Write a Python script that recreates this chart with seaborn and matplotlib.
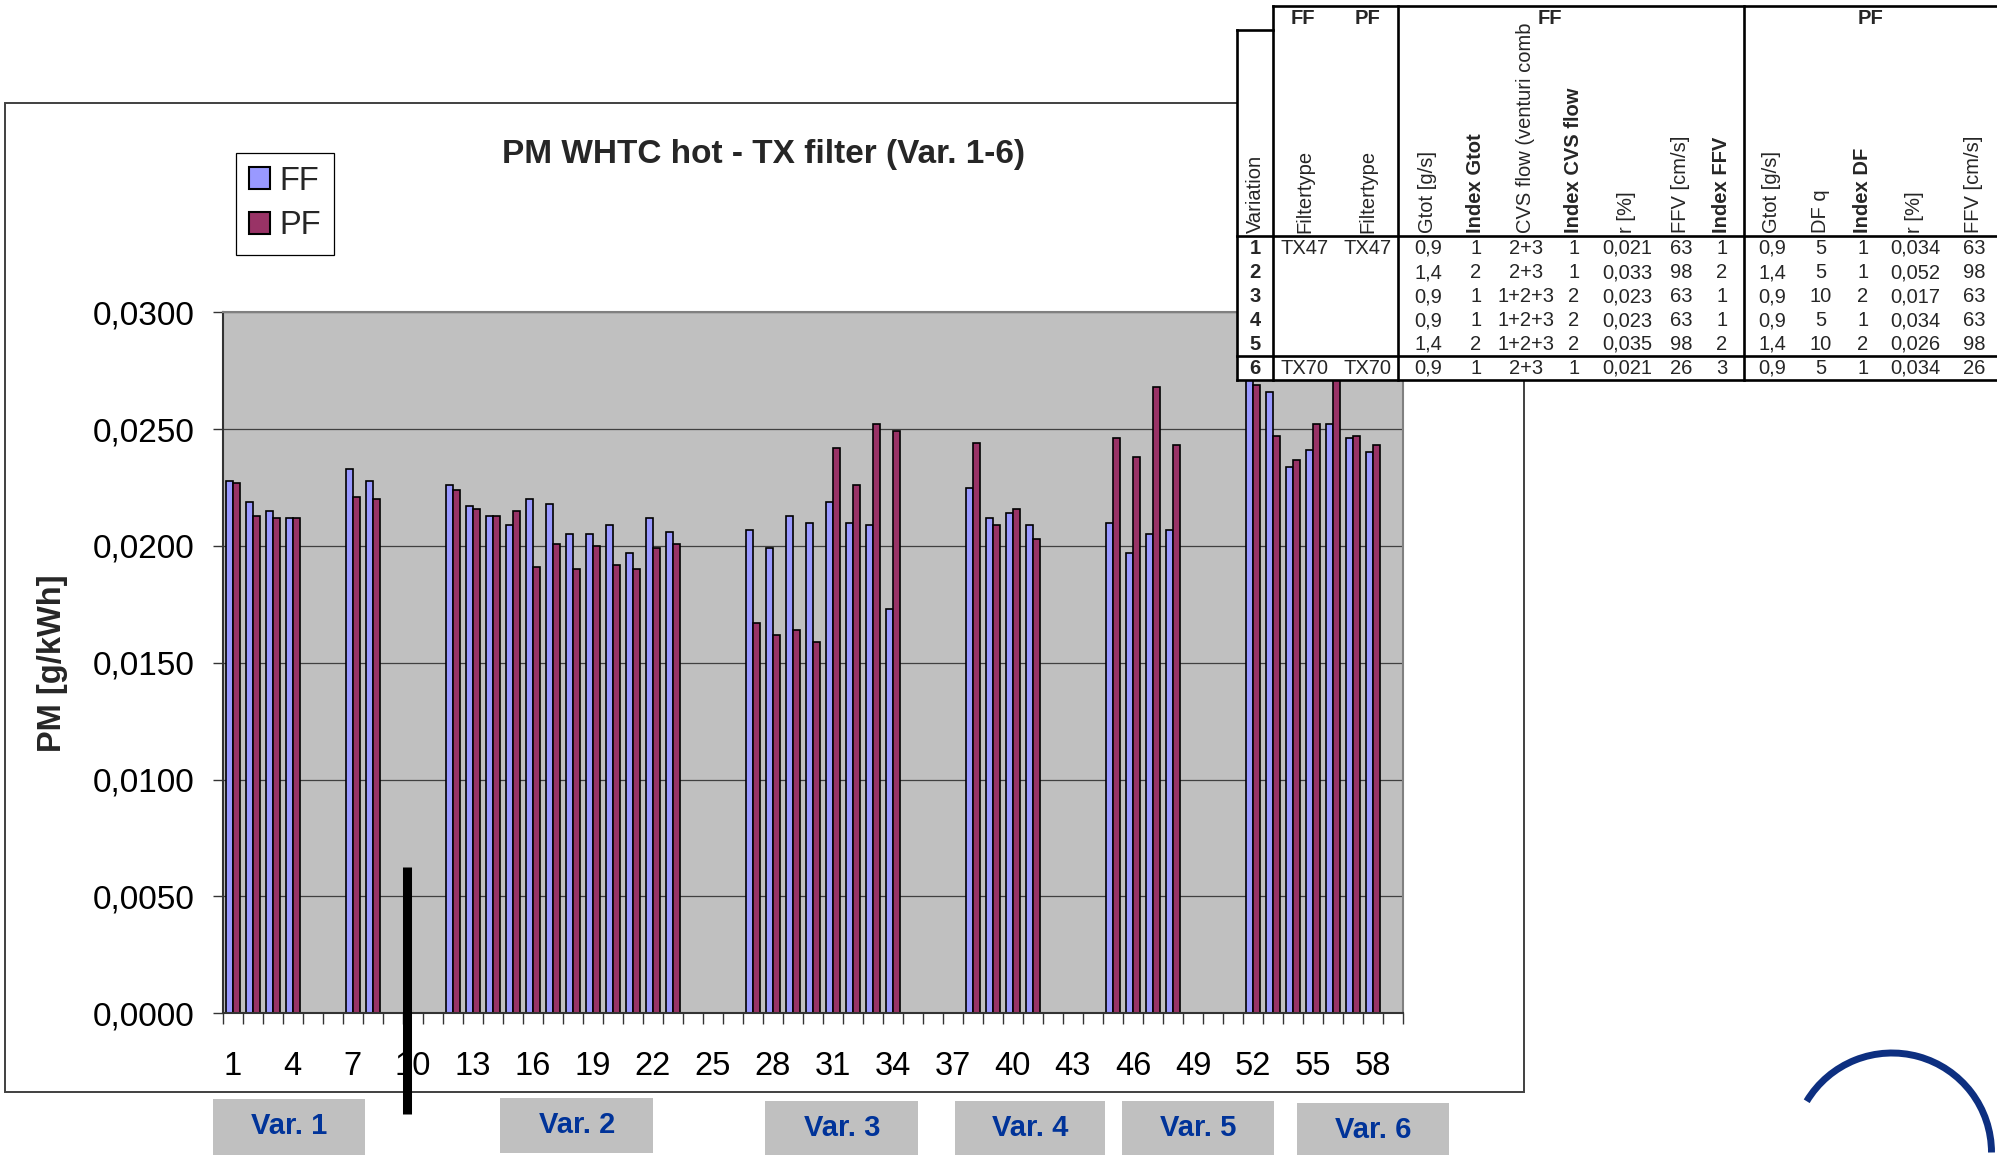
import numpy as np
import pandas as pd
import matplotlib
matplotlib.use("Agg")
import matplotlib.pyplot as plt
import seaborn as sns
from matplotlib.patches import Rectangle, Arc, Patch

nan = np.nan

# ---------------- data ----------------
categories = [str(i) for i in range(1, 60)]
ff_values = [0.0228, 0.0219, 0.0215, 0.0212, nan, nan, 0.0233, 0.0228, nan, nan,
             nan, 0.0226, 0.0217, 0.0213, 0.0209, 0.0220, 0.0218, 0.0205, 0.0205, 0.0209,
             0.0197, 0.0212, 0.0206, nan, nan, nan, 0.0207, 0.0199, 0.0213, 0.0210,
             0.0219, 0.0210, 0.0209, 0.0173, nan, nan, nan, 0.0225, 0.0212, 0.0214,
             0.0209, nan, nan, nan, 0.0210, 0.0197, 0.0205, 0.0207, nan, nan,
             nan, 0.0283, 0.0266, 0.0234, 0.0241, 0.0252, 0.0246, 0.0240, nan]
pf_values = [0.0227, 0.0213, 0.0212, 0.0212, nan, nan, 0.0221, 0.0220, nan, nan,
             nan, 0.0224, 0.0216, 0.0213, 0.0215, 0.0191, 0.0201, 0.0190, 0.0200, 0.0192,
             0.0190, 0.0199, 0.0201, nan, nan, nan, 0.0167, 0.0162, 0.0164, 0.0159,
             0.0242, 0.0226, 0.0252, 0.0249, nan, nan, nan, 0.0244, 0.0209, 0.0216,
             0.0203, nan, nan, nan, 0.0246, 0.0238, 0.0268, 0.0243, nan, nan,
             nan, 0.0269, 0.0247, 0.0237, 0.0252, 0.0288, 0.0247, 0.0243, nan]
series_names = ["FF", "PF"]
xtick_labels = ["1", "4", "7", "10", "13", "16", "19", "22", "25", "28", "31",
                "34", "37", "40", "43", "46", "49", "52", "55", "58"]
ytick_values = [0.0, 0.005, 0.010, 0.015, 0.020, 0.025, 0.030]
ytick_labels = ["0,0000", "0,0050", "0,0100", "0,0150", "0,0200", "0,0250", "0,0300"]
title = "PM WHTC hot - TX filter (Var. 1-6)"
ylabel = "PM [g/kWh]"
var_labels = ["Var. 1", "Var. 2", "Var. 3", "Var. 4", "Var. 5", "Var. 6"]

# table data
t_variation = ["1", "2", "3", "4", "5", "6"]
t_ff_filter = ["TX47", "", "", "", "", "TX70"]
t_pf_filter = ["TX47", "", "", "", "", "TX70"]
t_ff_gtot = ["0,9", "1,4", "0,9", "0,9", "1,4", "0,9"]
t_ff_idx_gtot = ["1", "2", "1", "1", "2", "1"]
t_ff_cvs = ["2+3", "2+3", "1+2+3", "1+2+3", "1+2+3", "2+3"]
t_ff_idx_cvs = ["1", "1", "2", "2", "2", "1"]
t_ff_r = ["0,021", "0,033", "0,023", "0,023", "0,035", "0,021"]
t_ff_ffv = ["63", "98", "63", "63", "98", "26"]
t_ff_idx_ffv = ["1", "2", "1", "1", "2", "3"]
t_pf_gtot = ["0,9", "1,4", "0,9", "0,9", "1,4", "0,9"]
t_pf_dfq = ["5", "5", "10", "5", "10", "5"]
t_pf_idx_df = ["1", "1", "2", "1", "2", "1"]
t_pf_r = ["0,034", "0,052", "0,017", "0,034", "0,026", "0,034"]
t_pf_ffv = ["63", "98", "63", "63", "98", "26"]

# ---------------- style ----------------
sns.set_style("white")
plt.rcParams["font.family"] = ["Liberation Sans", "DejaVu Sans"]

W, H = 1997, 1155
fig = plt.figure(figsize=(W / 100, H / 100), dpi=100)
fig.patch.set_facecolor("white")

ax_left, ax_right, ax_top, ax_bot = 222.7, 1403.0, 312.3, 1013.3
ax = fig.add_axes([ax_left / W, 1 - ax_bot / H, (ax_right - ax_left) / W, (ax_bot - ax_top) / H])
ax.set_facecolor("#C0C0C0")

df = pd.DataFrame({
    "cat": categories * 2,
    "pm": ff_values + pf_values,
    "filter": [series_names[0]] * len(categories) + [series_names[1]] * len(categories),
})
colors = {"FF": "#9999FF", "PF": "#993366"}
sns.barplot(data=df, x="cat", y="pm", hue="filter", order=categories,
            hue_order=series_names, palette=colors, saturation=1, width=0.68,
            edgecolor="black", linewidth=1.2, errorbar=None, legend=False, ax=ax)

ax.set_xlim(-0.5, len(categories) - 0.5)
ax.set_ylim(ytick_values[0], ytick_values[-1])
ax.set_xlabel("")
ax.set_ylabel("")
ax.set_axisbelow(True)
ax.yaxis.grid(True, color="#404040", linewidth=0.9)
ax.xaxis.grid(False)

ax.set_yticks(ytick_values)
ax.set_yticklabels(ytick_labels)
ax.tick_params(axis="y", which="major", left=True, direction="out", length=7.2,
               width=1, color="#333333", pad=13, labelsize=24, labelcolor="black")

major_pos = [categories.index(l) for l in xtick_labels]
ax.set_xticks(major_pos)
ax.set_xticklabels(xtick_labels)
ax.tick_params(axis="x", which="major", bottom=True, length=0, pad=27, labelsize=23.5,
               labelcolor="black")
ax.set_xticks(np.arange(-0.5, len(categories), 1.0), minor=True)
ax.tick_params(axis="x", which="minor", bottom=True, direction="out", length=8,
               width=1, color="#333333")

for s in ["left", "bottom"]:
    ax.spines[s].set_color("#333333")
    ax.spines[s].set_linewidth(1.5)
for s in ["top", "right"]:
    ax.spines[s].set_color("#808080")
    ax.spines[s].set_linewidth(1.5)

handles = [Patch(facecolor=colors[n], edgecolor="black", linewidth=1.5, label=n) for n in series_names]
leg = ax.legend(handles=handles, loc="upper left",
                bbox_to_anchor=(235.7 / W, 1 - 152.7 / H), bbox_transform=fig.transFigure,
                borderaxespad=0, fontsize=23.5, frameon=True, fancybox=False, framealpha=1,
                edgecolor="black", borderpad=0.4, handlelength=0.65, handleheight=0.65,
                handletextpad=0.3, labelspacing=0.42)
leg.get_frame().set_linewidth(0.9)

# ---------------- overlay (pixel coordinates, y down) ----------------
ov = fig.add_axes([0, 0, 1, 1], zorder=10)
ov.set_xlim(0, W)
ov.set_ylim(H, 0)
ov.axis("off")
ov.patch.set_alpha(0)

# chart frame
ov.add_patch(Rectangle((5, 103), 1519, 989, fill=False, edgecolor="#404040", linewidth=1.4, zorder=1))

# title and y label
ov.text(764, 154, title, ha="center", va="center", fontsize=24, fontweight="bold", zorder=4)
ov.text(53, 663, ylabel, ha="center", va="center", rotation=90, fontsize=23.5,
        fontweight="bold", zorder=4)

# variation boxes
var_boxes = [(212.7, 1099, 152.8, 56), (500.5, 1098, 152.9, 55), (765.4, 1101, 152.9, 56),
             (955.2, 1101, 150.3, 56), (1122.0, 1101, 151.6, 56), (1296.6, 1103, 152.7, 54)]
for (bx, by, bw, bh), lab in zip(var_boxes, var_labels):
    ov.add_patch(Rectangle((bx, by), bw, bh, facecolor="#C0C0C0", edgecolor="none", zorder=2))
    ov.text(bx + bw / 2, by + 27, lab, ha="center", va="center", fontsize=21,
            fontweight="bold", color="#003399", zorder=4)

# thick black marker line
ov.plot([407, 407], [867, 1114], color="black", linewidth=6.5, solid_capstyle="butt", zorder=5)

# logo arc
ov.add_patch(Arc((1892, 1152.5), 199, 199, theta1=211, theta2=360, color="#0D2F80",
                 linewidth=5, zorder=3))

# ---------------- table ----------------
ov.add_patch(Rectangle((1237, 6), W - 1237 + 5, 374, facecolor="white", edgecolor="none", zorder=2))
lw_t = 1.9
tl = dict(color="black", linewidth=lw_t, zorder=3, solid_capstyle="projecting")
ov.plot([1273, W + 5], [6, 6], **tl)
ov.plot([1237, 1273], [30, 30], **tl)
ov.plot([1237, 1237], [30, 380], **tl)
for xv in [1273, 1398, 1744]:
    ov.plot([xv, xv], [6, 380], **tl)
for yv in [236, 356, 380]:
    ov.plot([1237, W + 5], [yv, yv], **tl)

tfs = 14.5
group_headers = [("FF", 1303), ("PF", 1368), ("FF", 1550), ("PF", 1871)]
for txt, gx in group_headers:
    ov.text(gx, 18, txt, ha="center", va="center", fontsize=tfs, fontweight="bold", zorder=4)

columns = [
    ("Variation", False, 1255, t_variation, True),
    ("Filtertype", False, 1305, t_ff_filter, False),
    ("Filtertype", False, 1368, t_pf_filter, False),
    ("Gtot [g/s]", False, 1428, t_ff_gtot, False),
    ("Index Gtot", True, 1476, t_ff_idx_gtot, False),
    ("CVS flow (venturi comb", False, 1526, t_ff_cvs, False),
    ("Index CVS flow", True, 1574, t_ff_idx_cvs, False),
    ("r [%]", False, 1627, t_ff_r, False),
    ("FFV [cm/s]", False, 1681, t_ff_ffv, False),
    ("Index FFV", True, 1722, t_ff_idx_ffv, False),
    ("Gtot [g/s]", False, 1772, t_pf_gtot, False),
    ("DF q", False, 1821, t_pf_dfq, False),
    ("Index DF", True, 1863, t_pf_idx_df, False),
    ("r [%]", False, 1915, t_pf_r, False),
    ("FFV [cm/s]", False, 1974, t_pf_ffv, False),
]
row_y = [248.3, 272.7, 296.7, 320.7, 344.3, 368.3]
clip_rect = Rectangle((1237, 30), W - 1237, 350, transform=ov.transData)
for head, hbold, cx, vals, vbold in columns:
    ht = ov.text(cx, 233, head, ha="center", va="bottom", rotation=90, fontsize=tfs,
                 fontweight="bold" if hbold else "normal", zorder=4)
    ht.set_clip_path(clip_rect)
    for v, ry in zip(vals, row_y):
        if v:
            ov.text(cx, ry, v, ha="center", va="center", fontsize=tfs,
                    fontweight="bold" if vbold else "normal", zorder=4)

fig.savefig("out.png", dpi=100)
